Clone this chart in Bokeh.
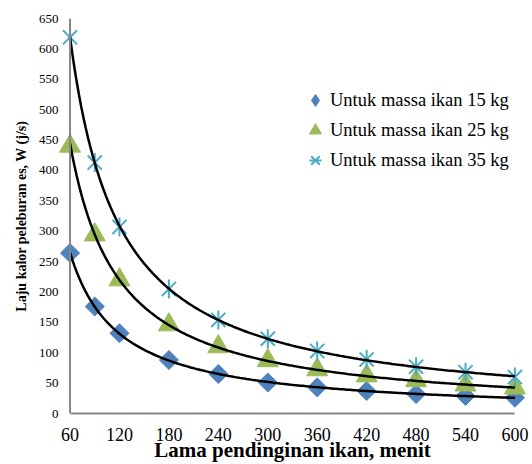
import numpy as np
from bokeh.plotting import figure
from bokeh.models import Range1d, FixedTicker, Span, Legend, LegendItem
from bokeh.embed import file_html
from bokeh.resources import INLINE

# ---- data ----
minutes = [60, 90, 120, 180, 240, 300, 360, 420, 480, 540, 600]
w_15kg = [264, 176, 132, 88, 65, 51, 43, 37, 32, 29, 26]
w_25kg = [440, 294, 220, 146, 110, 87, 72, 62, 54, 47, 42]
w_35kg = [619, 413, 307, 205, 154, 123, 103, 89, 77, 68, 60]
x_ticks = [60, 120, 180, 240, 300, 360, 420, 480, 540, 600]
y_ticks = [0, 50, 100, 150, 200, 250, 300, 350, 400, 450, 500, 550, 600, 650]
legend_labels = ["Untuk massa ikan 15 kg", "Untuk massa ikan 25 kg", "Untuk massa ikan 35 kg"]
x_title = "Lama pendinginan ikan, menit"
y_title = "Laju kalor peleburan es, W (j/s)"

BLUE = "#4F81BD"
GREEN = "#9BBB59"
CYAN = "#4BACC6"
AXIS = "#868686"
FONT = "Liberation Serif"

pad = 14
p = figure(width=532, height=464, output_backend="svg", toolbar_location=None,
           x_range=Range1d(x_ticks[0] - pad, x_ticks[-1] + pad),
           y_range=Range1d(y_ticks[0], y_ticks[-1]),
           min_border_left=58, min_border_right=6, min_border_top=18, min_border_bottom=51)
p.outline_line_color = None
p.grid.visible = False
p.background_fill_color = "white"
p.border_fill_color = "white"

# x axis
xa = p.xaxis[0]
xa.ticker = FixedTicker(ticks=x_ticks)
xa.bounds = (x_ticks[0], x_ticks[-1])
xa.axis_line_color = AXIS
xa.axis_line_width = 2
xa.major_tick_line_color = None
xa.major_tick_out = 0
xa.major_tick_in = 0
xa.minor_tick_line_color = None
xa.minor_tick_out = 0
xa.major_label_text_font = FONT
xa.major_label_text_font_size = "18px"
xa.major_label_text_color = "black"
xa.major_label_standoff = 14
xa.axis_label = x_title
xa.axis_label_text_font = FONT
xa.axis_label_text_font_size = "21px"
xa.axis_label_text_font_style = "bold"
xa.axis_label_text_color = "black"
xa.axis_label_standoff = -6

# y axis
ya = p.yaxis[0]
ya.ticker = FixedTicker(ticks=y_ticks)
ya.axis_line_color = None
ya.major_tick_line_color = None
ya.major_tick_out = 0
ya.major_tick_in = 0
ya.minor_tick_line_color = None
ya.minor_tick_out = 0
ya.major_label_text_font = FONT
ya.major_label_text_font_size = "13px"
ya.major_label_text_color = "black"
ya.major_label_standoff = 0
ya.axis_label = y_title
ya.axis_label_text_font = FONT
ya.axis_label_text_font_size = "14px"
ya.axis_label_text_font_style = "bold"
ya.axis_label_text_color = "black"
ya.axis_label_standoff = 7

# y axis line at x = first tick
p.add_layout(Span(location=x_ticks[0], dimension="height", line_color=AXIS, line_width=2))

# markers
p.scatter(minutes, w_15kg, marker="square", size=13.5, angle=np.pi / 4,
          fill_color=BLUE, line_color=BLUE, line_width=1)
p.scatter(minutes, w_25kg, marker="triangle", size=21,
          fill_color=GREEN, line_color=GREEN, line_width=1)
p.scatter(minutes, w_35kg, marker="x", size=20, line_color=CYAN, line_width=2)
p.scatter(minutes, w_35kg, marker="dash", size=19, angle=np.pi / 2, line_color=CYAN, line_width=2)

# power-law trend lines fitted to each series
xs = np.linspace(minutes[0], minutes[-1], 200)
for ys in (w_15kg, w_25kg, w_35kg):
    b, loga = np.polyfit(np.log(minutes), np.log(ys), 1)
    p.line(xs, np.exp(loga) * xs ** b, line_color="black", line_width=2.5)

# legend-only renderers (a single NaN point so nothing is drawn in the plot)
nan = [float("nan")]
l1 = p.scatter(nan, nan, marker="diamond", fill_color=BLUE, line_color=BLUE)
l2 = p.scatter(nan, nan, marker="triangle", fill_color=GREEN, line_color=GREEN)
l3a = p.scatter(nan, nan, marker="x", line_color=CYAN, line_width=2)
l3b = p.scatter(nan, nan, marker="dash", line_color=CYAN, line_width=2)

legend = Legend(items=[LegendItem(label=legend_labels[0], renderers=[l1]),
                       LegendItem(label=legend_labels[1], renderers=[l2]),
                       LegendItem(label=legend_labels[2], renderers=[l3a, l3b])],
                location=(242, 238), orientation="vertical",
                glyph_width=30, glyph_height=30, label_height=30, spacing=0,
                padding=0, margin=0, label_standoff=0,
                label_text_font=FONT, label_text_font_size="18.5px", label_text_color="black",
                border_line_color=None, background_fill_alpha=0)
p.add_layout(legend, "center")

open("out.html", "w").write(file_html(p, INLINE))
